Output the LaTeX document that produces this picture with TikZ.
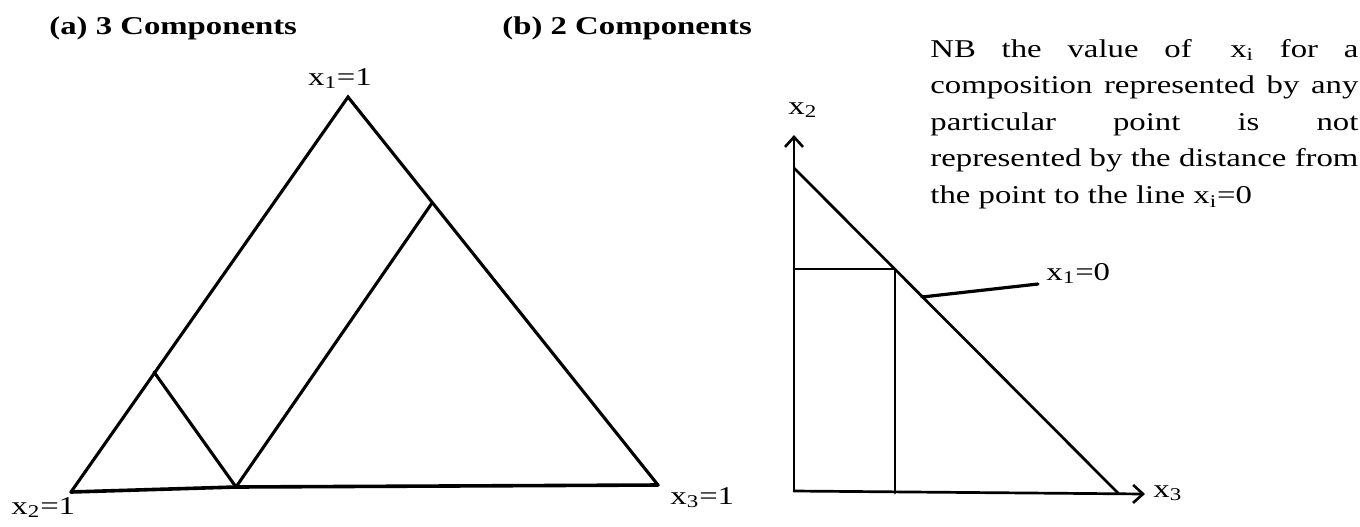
\documentclass[tikz,border=0pt]{standalone}
\usepackage{fontspec}
\setmainfont{Liberation Serif}[FakeStretch=1.28]
\usetikzlibrary{arrows.meta}
\newcommand{\sbx}[1]{\makebox[214pt][s]{#1}}
\begin{document}
\begin{tikzpicture}[x=0.5pt,y=-0.5pt,
  ln/.style={line width=1.35pt, line join=miter, line cap=round},
  tri/.style={line width=1.55pt, line join=miter, line cap=round},
  axis/.style={ln, -{Straight Barb[length=5pt,width=9pt,line width=1.3pt]}},
  lbl/.style={inner sep=0pt, font=\fontsize{12.8pt}{15pt}\selectfont},
  ttl/.style={inner sep=0pt, font=\fontsize{12.8pt}{15pt}\selectfont\bfseries}]
\useasboundingbox (0,0) rectangle (1360,526);

% titles
\node[ttl, anchor=base west] (ta) at (49,34) {(a) 3 Components};
\node[ttl, anchor=base west] (tb) at (502,34) {(b) 2 Components};

% (a) triangle
\coordinate (A) at (348,97);
\coordinate (L) at (71,492);
\coordinate (R) at (658,485);
\coordinate (P) at (154,372);
\coordinate (Q) at (236,487);
\coordinate (S) at (432,203);
\draw[tri] (L) -- (A) -- (R);
\draw[tri, line width=1.8pt] (L) -- (Q) -- (R);
\draw[tri] (P) -- (Q);
\draw[tri] (Q) -- (S);

\node[lbl, anchor=base] (x1a) at (340,85) {x\textsubscript{1}=1};
\node[lbl, anchor=base west] (x2a) at (11,514) {x\textsubscript{2}=1};
\node[lbl, anchor=base west] (x3a) at (670,504) {x\textsubscript{3}=1};

% (b) two components
\coordinate (O) at (794,491);
\coordinate (YT) at (794,135);
\coordinate (XT) at (1145,494);
\coordinate (D1) at (794,168);
\coordinate (D2) at (1118,493);
\coordinate (H1) at (794,269);
\coordinate (C) at (895,269);
\coordinate (V2) at (895,493);
\coordinate (M1) at (922,297);
\coordinate (M2) at (1038,284);
\draw[axis] (O) -- (YT);
\draw[axis] (O) -- (XT);
\draw[ln] (D1) -- (D2);
\draw[ln] (H1) -- (C) -- (V2);
\draw[ln, line width=1.6pt] (M1) -- (M2);

\node[lbl, anchor=base west] (x2b) at (788,114) {x\textsubscript{2}};
\node[lbl, anchor=base west] (x3b) at (1153,497) {x\textsubscript{3}};
\node[lbl, anchor=base west] (x1b) at (1046,280) {x\textsubscript{1}=0};

% note
\node[inner sep=0pt, anchor=base west] (nb) at (930,57) {\parbox[t]{214pt}{\fontsize{12.8pt}{18.3pt}\selectfont
\sbx{NB the value of\hspace{0.5em} x\textsubscript{i} for a}\\
\sbx{composition represented by any}\\
\sbx{particular point is not}\\
\sbx{represented by the distance from}\\
the point to the line x\textsubscript{i}=0}};
\end{tikzpicture}
\end{document}
